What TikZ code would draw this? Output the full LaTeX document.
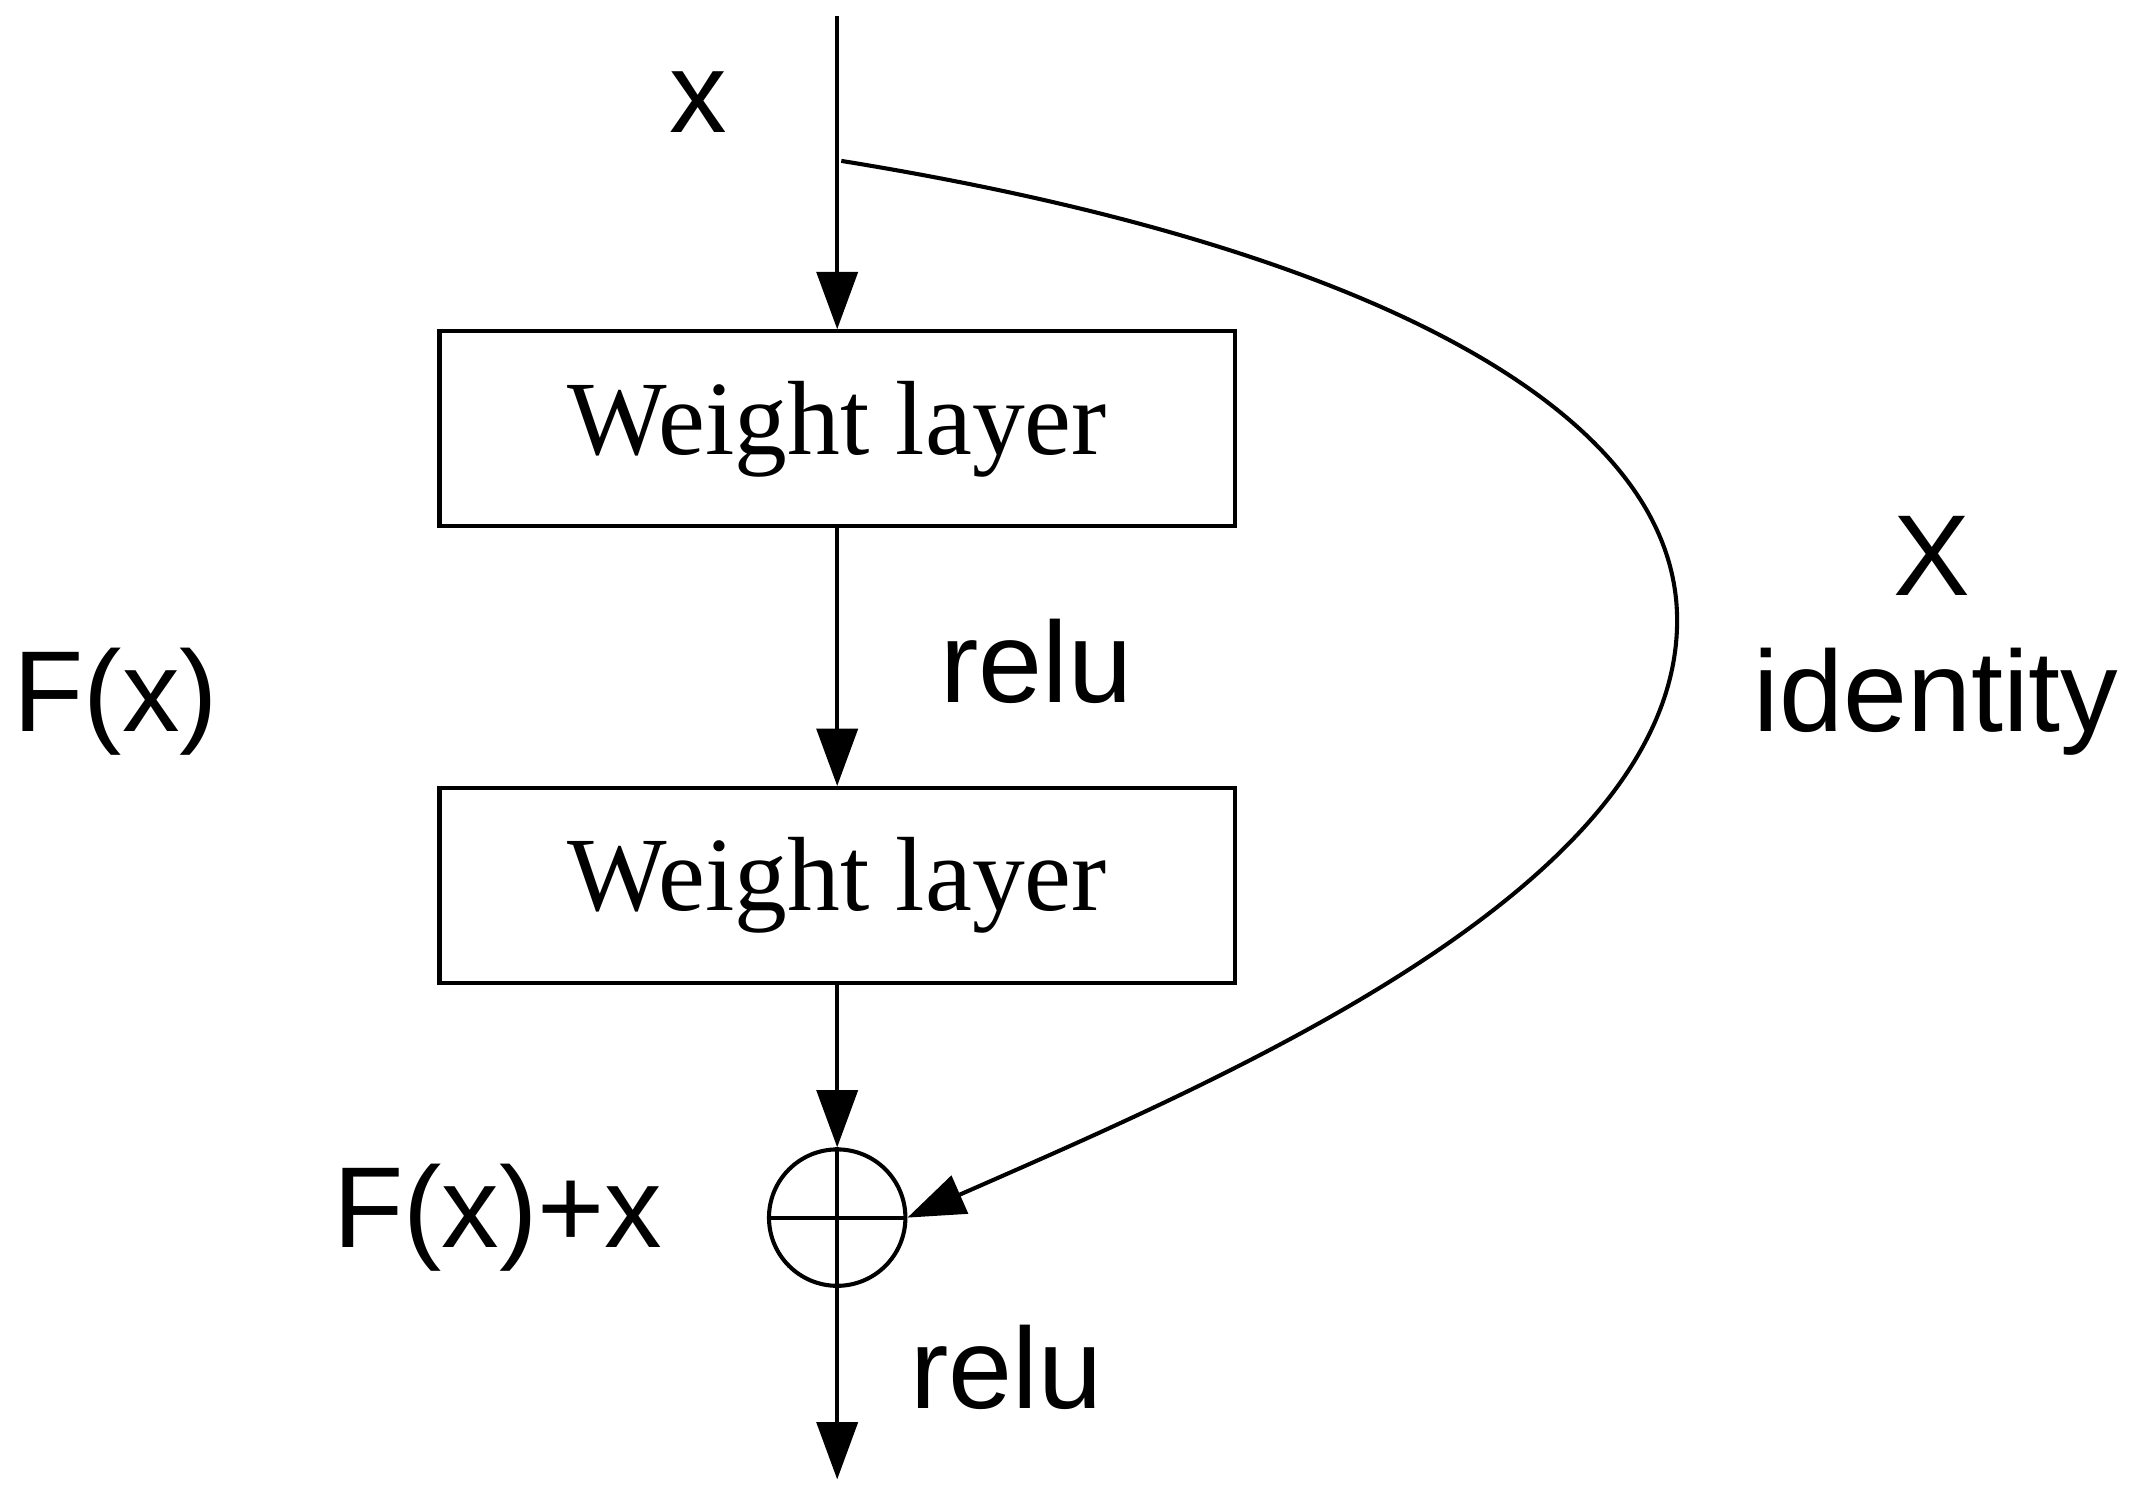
\documentclass[tikz,border=0pt]{standalone}
\usepackage{fontspec}
\setmainfont{Liberation Serif}
\newfontfamily\sans{Liberation Sans}
\usetikzlibrary{arrows.meta}
\begin{document}
\begin{tikzpicture}[x=0.01cm,y=-0.01cm,line width=0.85pt,
  arr/.style={-{Triangle[length=0.42cm,width=0.3cm]}},
  box/.style={draw,minimum width=5.83cm,minimum height=1.43cm,inner sep=0pt,font=\fontsize{22}{26}\selectfont},
  lab/.style={font=\sans\fontsize{24}{28}\selectfont,inner sep=0pt}]
\useasboundingbox (0,0) rectangle (1568,1097);
\coordinate (top) at (614,12);
\coordinate (br) at (614,118);
\coordinate (brs) at (617,118);
\coordinate (bot) at (614,1085);
\node[box] (w1) at (614,314.5) {Weight layer};
\node[box] (w2) at (614,649.5) {Weight layer};
\node[draw,circle,minimum size=1.0cm,inner sep=0pt] (sum) at (614,893) {};
\draw (sum.north) -- (sum.south) (sum.west) -- (sum.east);
\draw[arr] (top) -- (w1.north);
\draw[arr] (w1.south) -- (w2.north);
\draw[arr] (w2.south) -- (sum.north);
\draw[arr] (sum.south) -- (bot);
\draw[arr] (brs) .. controls (1000,180) and (1230,300) .. (1230,455) .. controls (1230,650) and (900,790) .. (sum.east);
\node[lab] (x) at (512,75) {x};
\node[lab] (r1) at (760,485) {relu};
\node[lab] (fx) at (85,515) {F(x)};
\node[lab] (X) at (1417,408) {X};
\node[lab] (id) at (1420,515) {identity};
\node[lab] (fxx) at (365,893) {F(x)+x};
\node[lab] (r2) at (738,1003) {relu};
\end{tikzpicture}
\end{document}
